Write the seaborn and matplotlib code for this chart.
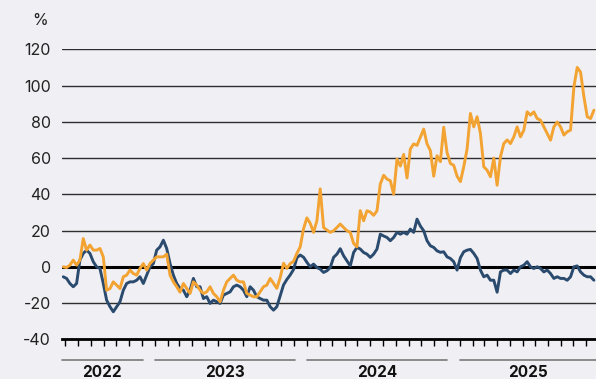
import pandas as pd
import numpy as np
import matplotlib.pyplot as plt
import matplotlib.dates as mdates
import matplotlib.transforms as mtransforms
import seaborn as sns

# values, one point every 8 days from 10 Jun 2022
start_date = "2022-06-10"
orange_vals = [
    0, -0.4, 0.9, 3.7, 0.9, 3.7, 15.6, 9.2, 12, 9.2, 9.2, 10.1, 5.5, -12.9, -12, -8.3,
    -10.1, -12, -5.5, -4.6, -1.8, -3.7, -4.6, -0.9, 1.8, -1.8, 1.8, 3.7, 5.5, 5.5, 5.5, 7,
    -4.6, -8.3, -11, -14, -9.2, -11.9, -14.7, -8.3, -10.1, -12.9, -14.7, -13.8, -11, -14.7, -16.5, -19.3,
    -12.9, -8.3, -6.4, -4.6, -7.4, -8.3, -8.3, -14.7, -15.6, -16.5, -16.5, -13.8, -11, -10.1, -6.4, -9.2,
    -11.9, -6, 2, -0.9, 1.8, 3, 7.4, 11, 21, 27, 24, 19, 25.4, 43, 21.7, 20.3,
    19, 19.9, 21.7, 23.6, 21.7, 19.9, 19, 12.9, 11, 31, 25.4, 30.9, 30.2, 28.4, 30.9, 45.7,
    50.5, 48.4, 47.5, 40, 59.5, 55.6, 62, 49, 65, 67.8, 67, 71.5, 76, 67.8, 64.1, 50,
    61.3, 58, 77, 63, 57, 56, 50, 47, 55.2, 65, 84.6, 77.2, 82.8, 73.6, 55.2, 53.3,
    49.7, 60, 45, 60.7, 68, 70, 68, 71.7, 77.2, 71.7, 75.4, 85.5, 83.7, 85.5, 81.8, 80.9,
    77.2, 73.6, 69.9, 77.2, 79.9, 77.2, 72.7, 74.5, 75.4, 99.3, 110, 107.4, 93.8, 82.8, 81.8, 86.4,
]
blue_vals = [
    -5.5, -6.4, -9.2, -11, -9.2, 3.7, 7.4, 9.2, 7.4, 2.8, 0, -0.9, -9.2, -18.4, -22, -24.8,
    -22, -19.3, -12.9, -9.2, -8.3, -8.3, -7.4, -5.5, -9.2, -4.6, 0, 1.8, 9.2, 11, 14.7, 10.1,
    1.8, -4.6, -9.2, -11.9, -12.9, -16.5, -12.9, -6.4, -11, -11, -17.5, -16.5, -20.2, -18.4, -19.3, -20.2,
    -15.6, -14.7, -13.8, -11, -10.1, -11, -12.9, -16.5, -11, -12.9, -16.5, -17.5, -18.4, -18.4, -22, -23.9,
    -22, -16, -10, -7, -4.5, -1.5, 5, 6.5, 5.3, 2.5, 0, 1.5, -0.4, -1.3, -3.1, -2.2,
    -0.4, 5.2, 7, 10, 6.1, 3.3, 0.5, 7.9, 10.7, 9.8, 7.9, 7, 5.2, 7, 9.8, 18,
    17, 16.2, 14.4, 16.2, 19, 18, 19, 18, 20.8, 19, 26.3, 22.5, 19.9, 14.4, 11.6, 10.7,
    8.8, 8, 8.3, 5.5, 4.6, 2.8, -1.8, 5, 8.3, 9.2, 9.6, 7.4, 4.6, -1.8, -5.5, -4.6,
    -7.4, -7.4, -14, -2.8, -1.8, -1.8, -3.7, -1.8, -2.8, 0, 0.9, 2.8, 0, -0.9, 0, -0.9,
    -2.8, -1.8, -3.7, -6.4, -5.5, -6.4, -6.4, -7.4, -5.5, 0, 0.5, -2.8, -4.6, -5.5, -5.5, -7.4,
]
years = [2022, 2023, 2024, 2025]
y_ticks = [-40, -20, 0, 20, 40, 60, 80, 100, 120]

orange = "#f3a331"
blue = "#2a4a6e"
bg = "#efeff4"

dates = pd.date_range(start_date, periods=len(orange_vals), freq="8D")
df = pd.DataFrame({"date": dates, "orange": orange_vals, "blue": blue_vals})

sns.set_style("white")
plt.rcParams["font.family"] = ["Inter", "DejaVu Sans"]

fig = plt.figure(figsize=(5.96, 3.79), dpi=100, facecolor=bg)
ax = fig.add_axes([0.104, 0.1047, 0.896, 0.7652])
ax.set_facecolor(bg)

ax.axhline(0, color="black", lw=2.2, zorder=1.5)
sns.lineplot(data=df, x="date", y="blue", color=blue, lw=2.1, ax=ax, zorder=3)
sns.lineplot(data=df, x="date", y="orange", color=orange, lw=2.1, ax=ax, zorder=4)

ax.set_xlim(pd.Timestamp("2022-06-07"), pd.Timestamp("2025-12-08"))
ax.set_ylim(-40, 120)
ax.set_yticks(y_ticks)
ax.set_yticklabels([str(t) for t in y_ticks], fontsize=11.5, color="#222222")
ax.tick_params(axis="y", length=0, pad=8)
ax.yaxis.grid(True, color="#2e2e2e", lw=1.0)
ax.set_axisbelow(True)

# monthly ticks at mid-month, no labels
ax.xaxis.set_major_locator(mdates.MonthLocator(bymonthday=15))
ax.xaxis.set_major_formatter(plt.NullFormatter())
ax.tick_params(axis="x", bottom=True, direction="out", length=5, width=1, color="black")

for s in ["top", "right", "left"]:
    ax.spines[s].set_visible(False)
ax.spines["bottom"].set_color("black")
ax.spines["bottom"].set_linewidth(2.0)

ax.set_xlabel("")
ax.set_ylabel("")

# year brackets with labels
trans = mtransforms.blended_transform_factory(ax.transData, ax.transAxes)
x0, x1 = ax.get_xlim()
for yr in years:
    a = max(mdates.date2num(pd.Timestamp(f"{yr}-01-15")), x0)
    b = min(mdates.date2num(pd.Timestamp(f"{yr}-12-17")), x1)
    ax.plot([a, b], [-0.072, -0.072], transform=trans, color="#7a7a7a", lw=1.2, clip_on=False)
    ax.text((a + b) / 2, -0.113, str(yr), transform=trans, ha="center", va="center",
            fontsize=11, fontweight="bold", color="#111111")

fig.text(0.054, 0.947, "%", fontsize=11.5, color="#222222", va="center", ha="left")

plt.savefig("out.png", dpi=100, facecolor=bg)
